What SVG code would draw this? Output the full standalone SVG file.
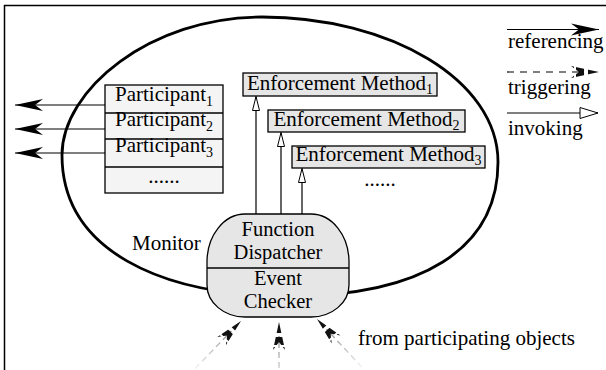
<svg xmlns="http://www.w3.org/2000/svg" width="606" height="370" viewBox="0 0 606 370" font-family="'Liberation Serif', 'Times New Roman', 'DejaVu Serif', serif">
<style>
text { font-family: "Liberation Serif", "Times New Roman", "DejaVu Serif", serif; font-size: 21px; fill: #000; }
.sub { font-size: 14px; }
.mid { text-anchor: middle; }
.nt { font-size: 20.5px; }
.box { stroke: #000; stroke-width: 1.3; }
.pbox { fill: #f4f4f4; }
.ebox { fill: #e6e6e6; }
.ln { stroke: #000; stroke-width: 1.2; fill: none; }
</style>
<defs>
  <marker id="ref" markerUnits="userSpaceOnUse" orient="auto" overflow="visible" refX="0" refY="0" markerWidth="1" markerHeight="1">
    <path d="M0,0 L-28,-6 L-20,0 L-28,6 Z" fill="#000"/>
  </marker>
  <marker id="inv" markerUnits="userSpaceOnUse" orient="auto" overflow="visible" refX="0" refY="0" markerWidth="1" markerHeight="1">
    <path d="M0,0 L-14,-3.5 L-14,3.5 Z" fill="#fff" stroke="#000" stroke-width="1"/>
  </marker>
  <marker id="invL" markerUnits="userSpaceOnUse" orient="auto" overflow="visible" refX="0" refY="0" markerWidth="1" markerHeight="1">
    <path d="M0,0 L-18,-5.5 L-18,5.5 Z" fill="#fff" stroke="#000" stroke-width="1"/>
  </marker>
  <mask id="hm" maskUnits="userSpaceOnUse" x="-40" y="-20" width="50" height="40">
    <rect x="-40" y="-20" width="50" height="40" fill="#fff"/>
    <rect x="-15" y="-20" width="4" height="40" fill="#000"/>
    <rect x="-25" y="-20" width="2" height="40" fill="#000"/>
  </mask>
  <linearGradient id="fade" gradientUnits="userSpaceOnUse" x1="-66" y1="0" x2="-14" y2="0">
    <stop offset="0" stop-color="#f2f2f2"/>
    <stop offset="1" stop-color="#8a8a8a"/>
  </linearGradient>
  <g id="trigHead">
    <path d="M0,0 L-28,-6 L-20,0 L-28,6 Z" fill="#111" mask="url(#hm)"/>
  </g>
  <g id="trigB">
    <line x1="-66" y1="0" x2="-14" y2="0" stroke="url(#fade)" stroke-width="1.3" stroke-dasharray="6 4"/>
    <use href="#trigHead"/>
  </g>
</defs>

<rect id="frame" x="4.5" y="5.5" width="700" height="500" fill="none" stroke="#000" stroke-width="1.5"/>

<g id="monitor">
  <path d="M262,17 C390,17 498,80 498,162 C498,250 420,296 290,296 C160,296 62,250 62,155 C62,90 150,17 262,17 Z" fill="none" stroke="#000" stroke-width="2.8"/>
  <text x="132" y="250">Monitor</text>
</g>

<g id="connectors">
  <line class="ln" x1="105" y1="105" x2="15" y2="105" marker-end="url(#ref)"/>
  <line class="ln" x1="105" y1="129" x2="15" y2="129" marker-end="url(#ref)"/>
  <line class="ln" x1="105" y1="153" x2="15" y2="153" marker-end="url(#ref)"/>
  <line class="ln" x1="256" y1="214" x2="256" y2="96.5" marker-end="url(#inv)"/>
  <line class="ln" x1="281" y1="214" x2="281" y2="132.5" marker-end="url(#inv)"/>
  <line class="ln" x1="302" y1="214" x2="302" y2="168.5" marker-end="url(#inv)"/>
  <use href="#trigB" transform="translate(241,321) rotate(-46)"/>
  <use href="#trigB" transform="translate(279,322) rotate(-90)"/>
  <use href="#trigB" transform="translate(317,319) rotate(-133)"/>
</g>

<g id="participants">
  <rect class="box pbox" x="105" y="85" width="118" height="108"/>
  <line class="box" x1="105" y1="113" x2="223" y2="113"/>
  <line class="box" x1="105" y1="139" x2="223" y2="139"/>
  <line class="box" x1="105" y1="167" x2="223" y2="167"/>
  <text class="mid" x="164" y="101">Participant<tspan class="sub" dy="5">1</tspan></text>
  <text class="mid" x="164" y="126">Participant<tspan class="sub" dy="5">2</tspan></text>
  <text class="mid" x="164" y="152">Participant<tspan class="sub" dy="5">3</tspan></text>
  <text class="mid" x="164" y="183">......</text>
</g>

<g id="em1">
  <rect class="box ebox" x="243" y="73" width="194" height="23"/>
  <text class="mid" x="340" y="89.5">Enforcement Method<tspan class="sub" dy="4">1</tspan></text>
</g>
<g id="em2">
  <rect class="box ebox" x="268" y="110" width="197" height="22"/>
  <text class="mid" x="366.5" y="125.5">Enforcement Method<tspan class="sub" dy="4">2</tspan></text>
</g>
<g id="em3">
  <rect class="box ebox" x="292" y="146" width="193" height="22"/>
  <text class="mid" x="388.5" y="161">Enforcement Method<tspan class="sub" dy="4">3</tspan></text>
</g>
<g id="em-more">
  <text class="mid" x="380" y="186">......</text>
</g>

<g id="dispatcher">
  <path d="M245,214 H311 A38,48 0 0 1 349,262 V285 A38,32 0 0 1 311,317 H245 A38,32 0 0 1 207,285 V262 A38,48 0 0 1 245,214 Z" fill="#e6e6e6" stroke="#000" stroke-width="1.3"/>
  <line class="box" x1="207" y1="268" x2="349" y2="268"/>
  <text class="mid nt" x="278" y="236">Function</text>
  <text class="mid nt" x="278" y="259">Dispatcher</text>
  <text class="mid nt" x="278" y="285">Event</text>
  <text class="mid nt" x="278" y="307.5">Checker</text>
</g>

<g id="source-label">
  <text x="358" y="345">from participating objects</text>
</g>

<g id="legend">
  <line class="ln" x1="507" y1="29.5" x2="599" y2="29.5" marker-end="url(#ref)"/>
  <text x="508" y="48">referencing</text>
  <line class="ln" x1="507" y1="72" x2="580" y2="72" stroke-dasharray="7 6"/>
  <use href="#trigHead" transform="translate(599,72)"/>
  <text x="508" y="94">triggering</text>
  <line class="ln" x1="507" y1="113" x2="598" y2="113" marker-end="url(#invL)"/>
  <text x="508" y="135">invoking</text>
</g>
</svg>
